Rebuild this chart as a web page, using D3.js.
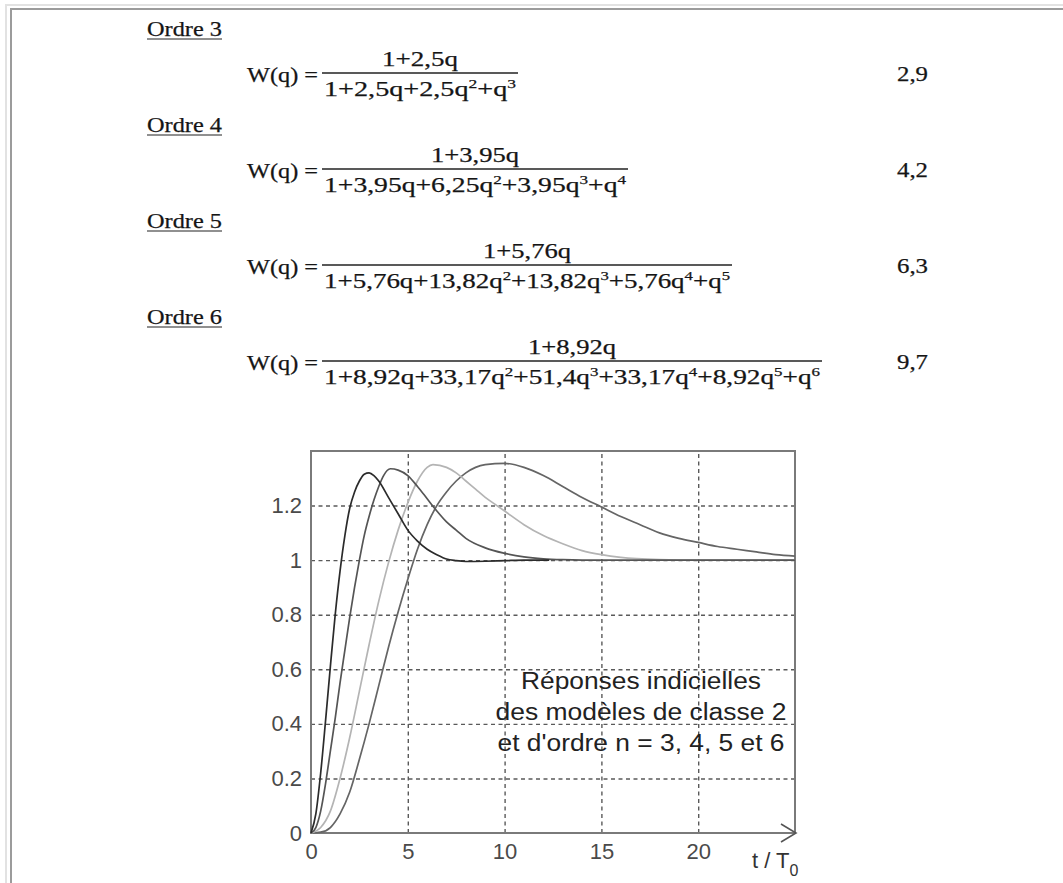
<!DOCTYPE html>
<html>
<head>
<meta charset="utf-8">
<script src="https://cdn.jsdelivr.net/npm/d3@7"></script>
<style>
  body { margin: 0; background: #fff; }
  svg { display: block; }
  .eq { font-family: "Liberation Serif", "Times New Roman", serif; fill: #151515; stroke: #151515; stroke-width: 0.25; font-size: 21px; }
  .tick text { font-family: "Liberation Sans", Arial, sans-serif; fill: #4a4a4a; font-size: 22px; }
  .grid line { stroke: #5a5a5a; stroke-width: 1.4; stroke-dasharray: 4 3.5; }
  .grid path { display: none; }
  .labels path, .labels line { display: none; }
</style>
</head>
<body>
<div id="container"></div>
<script>
// equations
const orders = ["Ordre 3", "Ordre 4", "Ordre 5", "Ordre 6"];
const numerators = ["1+2,5q", "1+3,95q", "1+5,76q", "1+8,92q"];
const denominators = [
  "1+2,5q+2,5q^2+q^3",
  "1+3,95q+6,25q^2+3,95q^3+q^4",
  "1+5,76q+13,82q^2+13,82q^3+5,76q^4+q^5",
  "1+8,92q+33,17q^2+51,4q^3+33,17q^4+8,92q^5+q^6"
];
const settleValues = ["2,9", "4,2", "6,3", "9,7"];

// step responses (t / T0, y)
const resp3 = [[0,0],[0.25,0.07],[0.5,0.22],[0.75,0.41],[1,0.61],[1.25,0.8],[1.5,0.96],[1.75,1.09],[2,1.19],[2.25,1.25],[2.5,1.29],[2.75,1.315],[3,1.32],[3.25,1.31],[3.5,1.29],[4,1.23],[4.5,1.17],[5,1.11],[5.5,1.07],[6,1.04],[6.5,1.02],[7,1.004],[7.5,0.998],[8,0.995],[9,0.996],[10,0.998],[11,1.0],[12.3,1.0]];
const resp4 = [[0,0],[0.25,0.02],[0.5,0.08],[0.75,0.18],[1,0.3],[1.25,0.42],[1.5,0.55],[1.75,0.67],[2,0.79],[2.25,0.9],[2.5,1.0],[2.75,1.09],[3,1.16],[3.25,1.22],[3.5,1.27],[3.75,1.31],[4.1,1.335],[4.5,1.33],[5,1.31],[5.5,1.27],[6,1.225],[6.5,1.18],[7,1.14],[7.5,1.11],[8,1.08],[9,1.045],[10,1.025],[11,1.012],[12,1.005],[13,1.002],[15,1.0],[25,1.0]];
const resp5 = [[0,0],[0.5,0.02],[1,0.08],[1.5,0.2],[2,0.35],[2.5,0.52],[3,0.69],[3.5,0.85],[4,0.99],[4.5,1.11],[5,1.21],[5.5,1.29],[6,1.34],[6.3,1.35],[7,1.34],[7.5,1.32],[8,1.29],[8.5,1.26],[9,1.23],[9.6,1.2],[10,1.18],[11,1.13],[12,1.09],[13,1.06],[14,1.035],[15,1.02],[16,1.01],[18,1.002],[20,1.0],[25,1.0]];
const resp6 = [[0,0],[0.5,0.003],[1,0.02],[1.5,0.07],[2,0.15],[2.5,0.27],[3,0.4],[3.5,0.54],[4,0.68],[4.5,0.81],[5,0.93],[5.5,1.04],[6,1.13],[6.5,1.2],[7,1.25],[7.5,1.29],[8,1.32],[8.5,1.34],[9,1.35],[10,1.355],[11,1.34],[12,1.31],[13,1.27],[14,1.23],[15,1.195],[16,1.16],[17,1.13],[18,1.1],[19,1.08],[20,1.065],[21,1.05],[22,1.04],[23,1.03],[24,1.02],[25,1.015]];

const xTicks = [0, 5, 10, 15, 20];
const yTicks = [0, 0.2, 0.4, 0.6, 0.8, 1, 1.2];
const noteLines = ["Réponses indicielles", "des modèles de classe 2", "et d'ordre n = 3, 4, 5 et 6"];

const W = 1063, H = 883;
const svg = d3.select('#container')
              .append('svg')
              .attr('width', W)
              .attr('height', H);

svg.append('rect').attr('width', W).attr('height', H).attr('fill', '#fff');

// page frame (light outer, darker inner)
svg.append('path')
   .attr('d', `M6,${H} V5 H${W}`)
   .attr('fill', 'none').attr('stroke', '#e2e2e2').attr('stroke-width', 2);
svg.append('path')
   .attr('d', `M11,${H} V9 H${W}`)
   .attr('fill', 'none').attr('stroke', '#9b9b9b').attr('stroke-width', 2);

// EQUATIONS
const lineStart = 322;
const lineWidths = [196, 306, 410, 500];
const numWidths = [76, 88, 88, 88];

orders.forEach((title, i) => {
  const top = 36 + i * 96;     // baseline of "Ordre n"
  const bar = top + 37;        // fraction bar

  svg.append('text').attr('class', 'eq')
     .attr('x', 147).attr('y', top)
     .attr('textLength', 75).attr('lengthAdjust', 'spacingAndGlyphs')
     .text(title);
  svg.append('line')
     .attr('x1', 147).attr('x2', 222)
     .attr('y1', top + 3).attr('y2', top + 3)
     .attr('stroke', '#222').attr('stroke-width', 1.2);

  svg.append('text').attr('class', 'eq')
     .attr('x', 247).attr('y', bar + 9)
     .attr('textLength', 71).attr('lengthAdjust', 'spacingAndGlyphs')
     .text('W(q) =');

  const lw = lineWidths[i];
  svg.append('line')
     .attr('x1', lineStart).attr('x2', lineStart + lw)
     .attr('y1', bar).attr('y2', bar)
     .attr('stroke', '#222').attr('stroke-width', 1.3);

  svg.append('text').attr('class', 'eq')
     .attr('x', lineStart + lw / 2).attr('y', bar - 7)
     .attr('text-anchor', 'middle')
     .attr('textLength', numWidths[i]).attr('lengthAdjust', 'spacingAndGlyphs')
     .text(numerators[i]);

  const den = svg.append('text').attr('class', 'eq')
                 .attr('x', lineStart + 2).attr('y', bar + 23)
                 .attr('textLength', lw - 4).attr('lengthAdjust', 'spacingAndGlyphs');
  denominators[i].split(/\^(\d)/).forEach((part, k) => {
    if (k % 2 === 0) {
      den.append('tspan').attr('dy', k === 0 ? 0 : 8).text(part);
    } else {
      den.append('tspan').attr('dy', -8).attr('font-size', 13).text(part);
    }
  });

  svg.append('text').attr('class', 'eq')
     .attr('x', 897).attr('y', bar + 8)
     .attr('textLength', 31).attr('lengthAdjust', 'spacingAndGlyphs')
     .text(settleValues[i]);
});

// PLOT
const x = d3.scaleLinear().domain([0, 25]).range([311, 795]);
const y = d3.scaleLinear().domain([0, 1.4]).range([833, 451]);

// grid
svg.append('g').attr('class', 'grid')
   .attr('transform', `translate(${x(0)},0)`)
   .call(d3.axisLeft(y).tickValues(yTicks.slice(1)).tickSize(-(x(25) - x(0))).tickFormat(''));
svg.append('g').attr('class', 'grid')
   .attr('transform', `translate(0,${y(0)})`)
   .call(d3.axisBottom(x).tickValues(xTicks.slice(1)).tickSize(-(y(0) - y(1.4))).tickFormat(''));

// box
svg.append('rect')
   .attr('x', x(0)).attr('y', y(1.4))
   .attr('width', x(25) - x(0)).attr('height', y(0) - y(1.4))
   .attr('fill', 'none').attr('stroke', '#7a7a7a').attr('stroke-width', 2);

// tick labels
svg.append('g').attr('class', 'labels')
   .attr('transform', `translate(${x(0)},0)`)
   .call(d3.axisLeft(y).tickValues(yTicks).tickSize(0).tickPadding(9).tickFormat(d => String(d)));
svg.append('g').attr('class', 'labels')
   .attr('transform', `translate(0,${y(0)})`)
   .call(d3.axisBottom(x).tickValues(xTicks).tickSize(0).tickPadding(10).tickFormat(d => String(d)));

// curves
const line = d3.line()
               .x(d => x(d[0]))
               .y(d => y(d[1]))
               .curve(d3.curveMonotoneX);

const series = [
  {data: resp6, color: '#656565'},
  {data: resp5, color: '#b4b4b4'},
  {data: resp4, color: '#555555'},
  {data: resp3, color: '#2b2b2b'}
];
svg.selectAll('path.resp')
   .data(series).enter()
   .append('path')
   .attr('class', 'resp')
   .attr('d', d => line(d.data))
   .attr('fill', 'none')
   .attr('stroke', d => d.color)
   .attr('stroke-width', 1.7);

// x axis arrow
svg.append('path')
   .attr('d', `M${x(25) - 14},${y(0) - 9} L${x(25) + 1},${y(0)} L${x(25) - 14},${y(0) + 9}`)
   .attr('fill', 'none').attr('stroke', '#555').attr('stroke-width', 1.6);

// axis title
const axTitle = svg.append('text')
                   .attr('x', 752).attr('y', 868)
                   .style('font-family', '"Liberation Sans", Arial, sans-serif')
                   .style('font-size', '22px')
                   .attr('fill', '#333');
axTitle.append('tspan').text('t / T');
axTitle.append('tspan').attr('dy', 8).style('font-size', '16px').text('0');

// note
const noteW = [240, 291, 287];
noteLines.forEach((t, i) => {
  svg.append('text')
     .attr('x', 641).attr('y', 689 + i * 31)
     .attr('text-anchor', 'middle')
     .attr('textLength', noteW[i]).attr('lengthAdjust', 'spacingAndGlyphs')
     .style('font-family', '"Liberation Sans", Arial, sans-serif')
     .style('font-size', '23px')
     .attr('fill', '#222')
     .text(t);
});
</script>
</body>
</html>
